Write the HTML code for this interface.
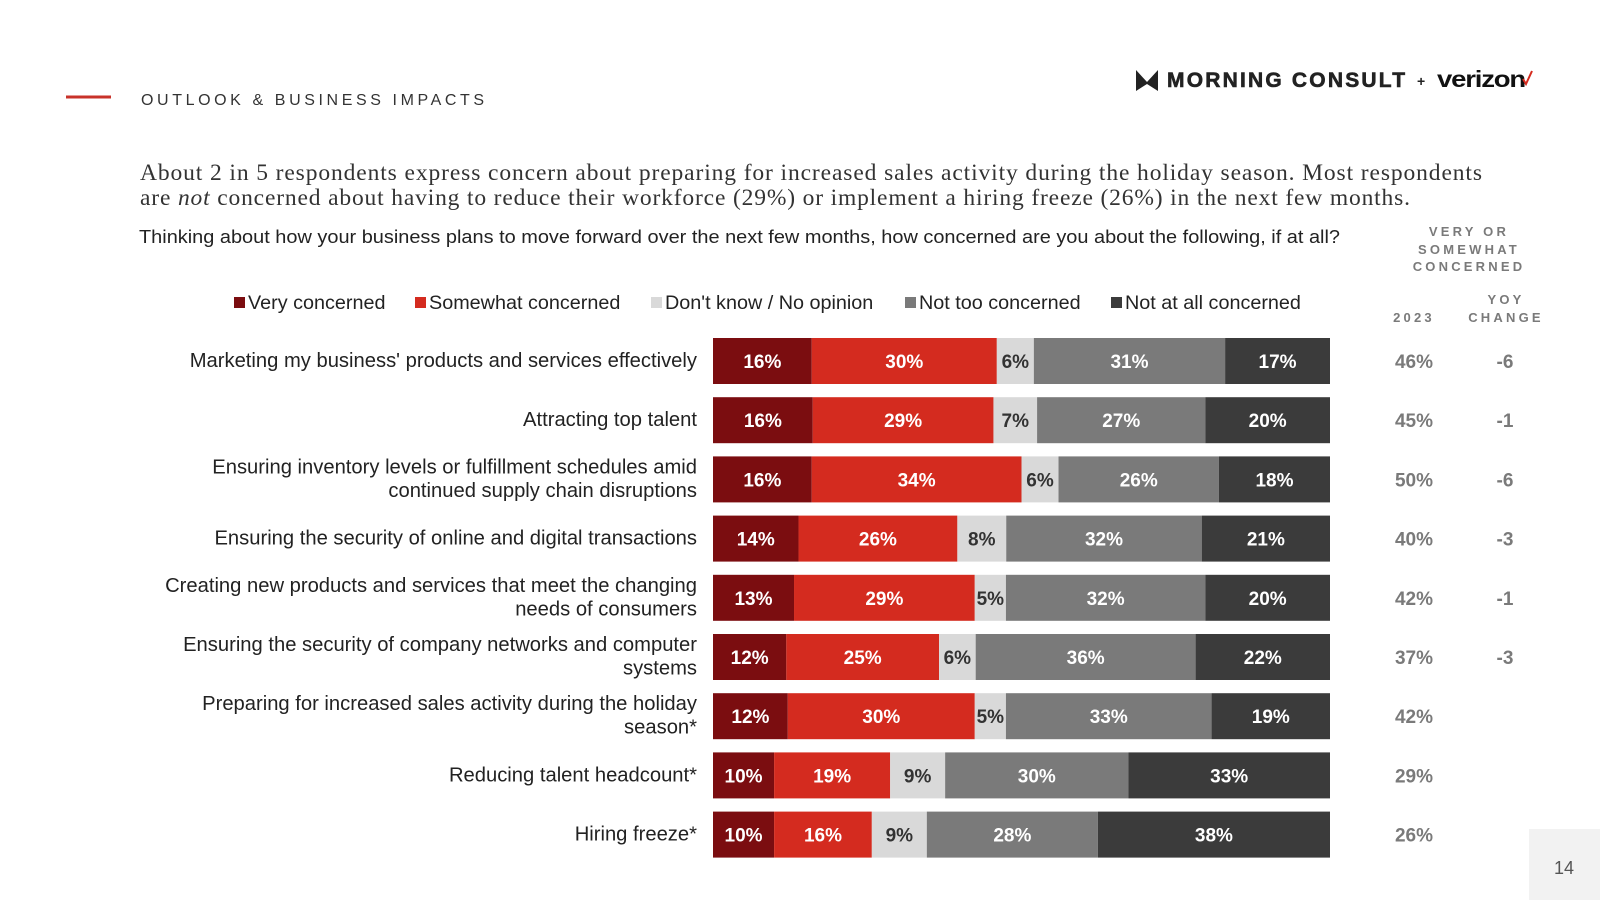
<!DOCTYPE html>
<html><head><meta charset="utf-8"><style>
body{margin:0;width:1600px;height:900px;background:#fff;overflow:hidden;position:relative;font-family:"Liberation Sans",Arial,sans-serif}
</style></head><body>
<svg width="1600" height="900" viewBox="0 0 1600 900" xmlns="http://www.w3.org/2000/svg" style="position:absolute;left:0;top:0">
<line x1="66" y1="97" x2="111" y2="97" stroke="#c8322a" stroke-width="3"/>
<text x="141" y="105" font-size="16" letter-spacing="3.6" fill="#333">OUTLOOK &amp; BUSINESS IMPACTS</text>
<g>
<path d="M1136 70 L1147 82 L1158 70 L1158 91 L1147 84 L1136 91 Z" fill="#222"/>
<text x="1167" y="87" font-size="21" font-weight="bold" letter-spacing="2.2" fill="#222" stroke="#222" stroke-width="0.6">MORNING CONSULT</text>
<text x="1417" y="86" font-size="14" font-weight="bold" fill="#222">+</text>
<text x="1437" y="87" font-size="23" font-weight="bold" letter-spacing="-1" fill="#111" textLength="88" lengthAdjust="spacingAndGlyphs">verizon</text>
<path d="M1523 79 L1526 84 L1532 71" stroke="#d52b1e" stroke-width="2" fill="none"/>
</g>
<text font-family="Liberation Serif,serif" font-size="23.5" fill="#333">
<tspan x="140" y="180" textLength="1342" lengthAdjust="spacing">About 2 in 5 respondents express concern about preparing for increased sales activity during the holiday season. Most respondents</tspan>
</text>
<text x="140" y="205" font-family="Liberation Serif,serif" font-size="23.5" fill="#333" textLength="1270" lengthAdjust="spacing">are <tspan font-style="italic">not</tspan> concerned about having to reduce their workforce (29%) or implement a hiring freeze (26%) in the next few months.</text>
<text x="139" y="243" font-size="18.5" fill="#222" textLength="1201" lengthAdjust="spacingAndGlyphs">Thinking about how your business plans to move forward over the next few months, how concerned are you about the following, if at all?</text>
<g font-size="13" font-weight="bold" fill="#7a7a7a" letter-spacing="3.2" text-anchor="middle">
<text x="1469" y="236">VERY OR</text><text x="1469" y="254">SOMEWHAT</text><text x="1469" y="271">CONCERNED</text>
<text x="1414" y="322">2023</text>
<text x="1506" y="304">YOY</text><text x="1506" y="322">CHANGE</text>
</g>
<g id="legend"></g>
<g id="chart"></g>
<rect x="1529" y="829" width="71" height="71" fill="#f2f2f2"/>
<text x="1564" y="874" font-size="18" fill="#555" text-anchor="middle">14</text>
</svg>
<script>
const categories=[["Marketing my business' products and services effectively"],["Attracting top talent"],["Ensuring inventory levels or fulfillment schedules amid","continued supply chain disruptions"],["Ensuring the security of online and digital transactions"],["Creating new products and services that meet the changing","needs of consumers"],["Ensuring the security of company networks and computer","systems"],["Preparing for increased sales activity during the holiday","season*"],["Reducing talent headcount*"],["Hiring freeze*"]];
const seriesNames=["Very concerned","Somewhat concerned","Don't know / No opinion","Not too concerned","Not at all concerned"];
const veryConcerned=[16,16,16,14,13,12,12,10,10];
const somewhatConcerned=[30,29,34,26,29,25,30,19,16];
const dontKnow=[6,7,6,8,5,6,5,9,9];
const notTooConcerned=[31,27,26,32,32,36,33,30,28];
const notAtAllConcerned=[17,20,18,21,20,22,19,33,38];
const total2023=["46%","45%","50%","40%","42%","37%","42%","29%","26%"];
const yoyChange=["-6","-1","-6","-3","-1","-3","","",""];
const colors=["#7b0d10","#d42b1f","#d9d9d9","#7a7a7a","#3b3b3b"];
const textColors=["#fff","#fff","#333","#fff","#fff"];
const series=[veryConcerned,somewhatConcerned,dontKnow,notTooConcerned,notAtAllConcerned];
const NS="http://www.w3.org/2000/svg";
const x0=713,x1=1330,rowTop=338,rowStep=59.2,barH=46;
const chart=document.getElementById('chart');
function mk(t,a,p){const e=document.createElementNS(NS,t);for(const k in a)e.setAttribute(k,a[k]);p.appendChild(e);return e;}
function yOf(i){return rowTop+i*rowStep;}
const legX=[234,415,651,905,1111];
const leg=document.getElementById('legend');
seriesNames.forEach((n,i)=>{
 const g=mk('g',{},leg);
 
 
 mk('rect',{x:legX[i],y:297,width:11,height:11,fill:colors[i]},g);
 const t=mk('text',{x:legX[i]+14,y:309,'font-size':19.8,fill:'#222'},g);t.textContent=n;
});
categories.forEach((lab,i)=>{
 const y=yOf(i);
 const sum=series.reduce((s,a)=>s+a[i],0);
 const scale=(x1-x0)/sum;
 const lt=mk('text',{x:697,'font-size':20.2,fill:'#222','text-anchor':'end'},chart);
 
 
 lab.forEach((l,j)=>{const ts=mk('tspan',{x:697,y:(lab.length==1?y+29:y+17+j*23.5)},lt);ts.textContent=l;});
 let cx=x0;
 series.forEach((arr,k)=>{
  const w=arr[i]*scale;
  const r=mk('rect',{x:cx,y:y,width:w,height:barH,fill:colors[k]},chart);
  
  
  const t=mk('text',{x:cx+w/2,y:y+30,'font-size':19,'font-weight':'bold','font-family':'"Liberation Sans Narrow","Liberation Sans",sans-serif',fill:textColors[k],'text-anchor':'middle'},chart);
  
  
  t.textContent=arr[i]+'%';
  cx+=w;
 });
 const a=mk('text',{x:1414,y:y+30,'font-size':19,'font-weight':'bold',fill:'#7a7a7a','text-anchor':'middle'},chart);
 
 
 a.textContent=total2023[i];
 const b=mk('text',{x:1505,y:y+30,'font-size':19,'font-weight':'bold',fill:'#7a7a7a','text-anchor':'middle'},chart);
 
 
 b.textContent=yoyChange[i];
});
</script>
</body></html>
